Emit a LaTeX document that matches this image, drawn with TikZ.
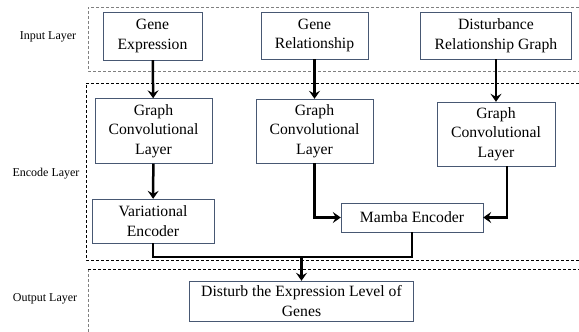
\documentclass[tikz,border=0pt]{standalone}
\usepackage{fontspec}
\setmainfont{Liberation Serif}
\usetikzlibrary{positioning,arrows.meta}

\definecolor{boxline}{RGB}{72,88,115}

\begin{document}
\begin{tikzpicture}
    [x=1pt,y=-1pt,%%%%%%%%%%%%%%%%%%%%%%%%%%%%%%
    box/.style={rectangle,draw=boxline,fill=white,align=center,inner sep=2pt,
        font=\fontsize{15.7}{19.5}\selectfont},
    layer/.style={font=\fontsize{12}{14}\selectfont},
    frame/.style={densely dashed,line width=0.6pt},
    flow/.style={-{Stealth[length=8pt,width=11pt,inset=3pt]},line width=2.5pt},
    ]%%%%%%%%%%%%%%%%%%%%%%%%%%%%%%

    \useasboundingbox (0,0) rectangle (579,332);

    % layers
    \draw[frame,color=gray] (579,7) -- (88,7) -- (88,71) -- (579,71);
    \draw[frame,color=black] (579,83) -- (86,83) -- (86,260) -- (579,260);
    \draw[frame,color=gray] (88,332) -- (88,269);
    \draw[frame,color=black] (88,269) -- (579,269);
    \node[layer] at (48,37) (input_text) {Input Layer};
    \node[layer] at (46,174) (encode_text) {Encode Layer};
    \node[layer] at (45,299) (output_text) {Output Layer};

    % input
    \node[box,minimum width=99,minimum height=48] at (152.5,36) (expr){Gene\\Expression};
    \node[box,minimum width=107,minimum height=47] at (314.5,35.5) (rel){Gene\\Relationship};
    \node[box,minimum width=151,minimum height=47] at (496,35.5) (dist){Disturbance\\Relationship Graph};

    % encode
    \node[box,minimum width=117,minimum height=65] at (153.5,131) (gcn_a){Graph\\Convolutional\\Layer};
    \node[box,minimum width=117,minimum height=64] at (314.5,131) (gcn_b){Graph\\Convolutional\\Layer};
    \node[box,minimum width=118,minimum height=64] at (496,134) (gcn_c){Graph\\Convolutional\\Layer};
    \node[box,minimum width=122,minimum height=44] at (153,221) (vae){Variational\\Encoder};
    \node[box,minimum width=142,minimum height=29] at (412,217.5) (mamba){Mamba Encoder};

    % output
    \node[box,minimum width=224,minimum height=40] at (301.5,301) (out){Disturb the Expression Level of\\Genes};

    \coordinate (merge) at (301.5,257);

    \draw [flow](expr) -- (gcn_a);
    \draw [flow](rel) -- (gcn_b);
    \draw [flow](dist) -- (gcn_c);
    \draw [flow](gcn_a) -- (vae);
    \draw [flow](gcn_b.south) |- (mamba.west);
    \draw [flow]([xshift=11]gcn_c.south) |- (mamba.east);
    \draw [line width=2.5pt](vae.south) |- (merge);
    \draw [line width=2.5pt](mamba.south) |- (merge);
    \draw [flow](merge) -- (out);

\end{tikzpicture}
\end{document}
